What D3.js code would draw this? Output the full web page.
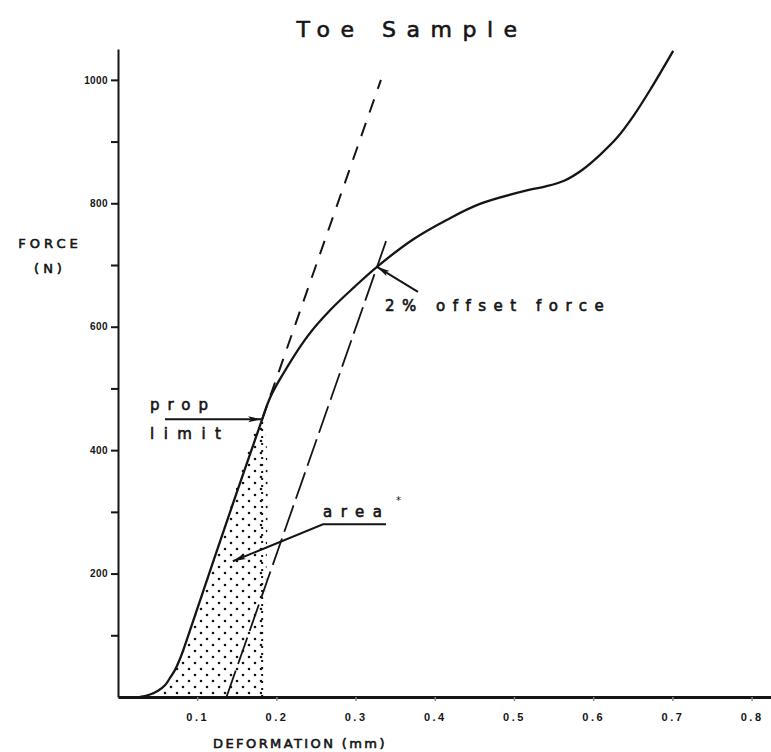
<!DOCTYPE html>
<html>
<head>
<meta charset="utf-8">
<script src="https://cdn.jsdelivr.net/npm/d3@7"></script>
<style>
  html, body { margin: 0; padding: 0; background: #fff; }
  svg { display: block; font-family: "DejaVu Sans", sans-serif; }
</style>
</head>
<body>
<svg id="chart" width="771" height="752"></svg>
<script>
// Load–deformation record of the toe sample
const deformation = [0.0278, 0.0404, 0.0505, 0.0593, 0.0657, 0.072, 0.0783, 0.0859, 0.128, 0.182, 0.192, 0.2045,
                     0.239, 0.268, 0.299, 0.327, 0.372, 0.415, 0.457, 0.520, 0.539, 0.564, 0.586, 0.609, 0.630,
                     0.650, 0.672, 0.701];
const force = [0, 4, 10, 19, 31, 44, 62, 89, 249, 450, 485, 515,
               584, 627, 665, 697, 741, 773, 799, 822, 827, 837, 854, 879, 906,
               940, 984, 1047];

// Axis ticks
const xTicks = [0.1, 0.2, 0.3, 0.4, 0.5, 0.6, 0.7, 0.8];
const xTickLabels = ["0.1", "0.2", "0.3", "0.4", "0.5", "0.6", "0.7", "0.8"];
const yTicks = [100, 200, 300, 400, 500, 600, 700, 800, 900, 1000];
const yTickLabels = ["", "200", "", "400", "", "600", "", "800", "", "1000"];

// Reference points of the analysis
const propLimit = { deformation: 0.182, force: 450 };      // proportional limit
const elasticTop = { deformation: 0.332, force: 1000 };    // end of the elastic tangent
const offsetStart = { deformation: 0.137, force: 0 };      // offset line foot
const offsetEndForce = 740;
const offsetForce = { deformation: 0.327, force: 697 };    // 2% offset force
const areaPointer = { deformation: 0.145, force: 220 };

const svg = d3.select("#chart");
const ink = "#151515";

const x = d3.scaleLinear().domain([0, 0.825]).range([118, 771.4]);
const y = d3.scaleLinear().domain([0, 1050]).range([697, 49]);

const data = deformation.map((d, i) => ({ d, f: force[i] }));
const modulus = (elasticTop.force - propLimit.force) / (elasticTop.deformation - propLimit.deformation);
const curve = d3.line().x(p => x(p.d)).y(p => y(p.f)).curve(d3.curveCatmullRom.alpha(0.5));

// Patterns and markers
const defs = svg.append("defs");
const pat = defs.append("pattern")
  .attr("id", "dots").attr("patternUnits", "userSpaceOnUse")
  .attr("width", 12).attr("height", 12);
pat.append("circle").attr("cx", 3).attr("cy", 3).attr("r", 1.3).attr("fill", ink);
pat.append("circle").attr("cx", 9).attr("cy", 9).attr("r", 1.3).attr("fill", ink);

defs.append("marker")
  .attr("id", "arrow").attr("markerUnits", "userSpaceOnUse")
  .attr("markerWidth", 14).attr("markerHeight", 8)
  .attr("refX", 13).attr("refY", 4).attr("orient", "auto")
  .append("path").attr("d", "M0,1 L13,4 L0,7 L3,4 Z").attr("fill", ink);

// Shaded area under the curve up to the proportional limit
const areaPts = data.filter(p => p.d <= propLimit.deformation);
const areaPoly = [{ d: areaPts[0].d, f: 0 }, ...areaPts, { d: propLimit.deformation, f: 0 }];
svg.append("path")
  .attr("d", d3.line().x(p => x(p.d)).y(p => y(p.f)).curve(d3.curveCatmullRom.alpha(0.5))(areaPoly) + "Z")
  .attr("fill", "url(#dots)").attr("stroke", "none");
svg.append("line")
  .attr("x1", x(propLimit.deformation)).attr("x2", x(propLimit.deformation))
  .attr("y1", y(0)).attr("y2", y(propLimit.force))
  .attr("stroke", ink).attr("stroke-width", 2).attr("stroke-dasharray", "2,5");

// Elastic tangent (dashed)
svg.append("line")
  .attr("x1", x(propLimit.deformation)).attr("y1", y(propLimit.force))
  .attr("x2", x(elasticTop.deformation)).attr("y2", y(elasticTop.force))
  .attr("stroke", ink).attr("stroke-width", 2).attr("stroke-dasharray", "14,11");

// Offset line parallel to the tangent
svg.append("line")
  .attr("x1", x(offsetStart.deformation)).attr("y1", y(offsetStart.force))
  .attr("x2", x(offsetStart.deformation + offsetEndForce / modulus)).attr("y2", y(offsetEndForce))
  .attr("stroke", ink).attr("stroke-width", 1.8).attr("stroke-dasharray", "28,7");

// Force–deformation curve
svg.append("path")
  .datum(data)
  .attr("d", curve)
  .attr("fill", "none").attr("stroke", ink).attr("stroke-width", 2.3);

// Axes
const yAxis = svg.append("g").attr("transform", `translate(${x(0)},0)`)
  .call(d3.axisLeft(y).tickValues(yTicks).tickSize(7).tickSizeOuter(0).tickPadding(3)
    .tickFormat((d, i) => yTickLabels[i]));
yAxis.select(".domain").attr("stroke", ink).attr("stroke-width", 2);
yAxis.selectAll(".tick line").attr("stroke", ink).attr("stroke-width", 2);
yAxis.selectAll(".tick text")
  .attr("font-family", "'Liberation Sans', sans-serif").attr("font-weight", "bold")
  .attr("font-size", 10).attr("letter-spacing", 0.4).attr("fill", ink);

const xAxis = svg.append("g").attr("transform", `translate(0,${y(0)})`)
  .call(d3.axisBottom(x).tickValues(xTicks).tickSize(4).tickSizeOuter(0).tickPadding(12)
    .tickFormat((d, i) => xTickLabels[i]));
xAxis.select(".domain").attr("stroke", ink).attr("stroke-width", 3);
xAxis.selectAll(".tick line").attr("stroke", "#888").attr("stroke-width", 1.5);
xAxis.selectAll(".tick text")
  .attr("font-family", "'Liberation Sans', sans-serif").attr("font-weight", "bold")
  .attr("font-size", 11).attr("letter-spacing", 2.5).attr("fill", ink);

// Heavier strokes for the hand-lettered look
const letter = sel => sel.attr("fill", ink).attr("stroke", ink).attr("stroke-width", 0.6);

// Titles
svg.append("text").attr("x", 412).attr("y", 37).attr("text-anchor", "middle")
  .attr("font-size", 22).attr("letter-spacing", 10.5).call(letter).text("Toe Sample");
svg.append("text").attr("x", 50).attr("y", 248).attr("text-anchor", "middle")
  .attr("font-size", 13).attr("letter-spacing", 4).call(letter).text("FORCE");
svg.append("text").attr("x", 50).attr("y", 273).attr("text-anchor", "middle")
  .attr("font-size", 13).attr("letter-spacing", 4).call(letter).text("(N)");
svg.append("text").attr("x", 300).attr("y", 748).attr("text-anchor", "middle")
  .attr("font-size", 13).attr("letter-spacing", 2.4).call(letter).text("DEFORMATION (mm)");

// Annotation: proportional limit
const px = x(propLimit.deformation), py = y(propLimit.force);
svg.append("text").attr("x", 150).attr("y", py - 9)
  .attr("font-size", 15).attr("letter-spacing", 8).call(letter).text("prop");
svg.append("text").attr("x", 150).attr("y", py + 20)
  .attr("font-size", 15).attr("letter-spacing", 9.5).call(letter).text("limit");
svg.append("line").attr("x1", 165).attr("y1", py).attr("x2", px - 1).attr("y2", py)
  .attr("stroke", ink).attr("stroke-width", 2).attr("marker-end", "url(#arrow)");

// Annotation: 2% offset force
const ox = x(offsetForce.deformation), oy = y(offsetForce.force);
svg.append("line").attr("x1", ox + 41).attr("y1", oy + 25).attr("x2", ox).attr("y2", oy)
  .attr("stroke", ink).attr("stroke-width", 2).attr("marker-end", "url(#arrow)");
svg.append("text").attr("x", 385).attr("y", oy + 44)
  .attr("font-size", 15).attr("letter-spacing", 7.5).call(letter).text("2% offset force");

// Annotation: area
const ax = x(areaPointer.deformation), ay = y(areaPointer.force);
svg.append("text").attr("x", 323).attr("y", ay - 44)
  .attr("font-size", 15).attr("letter-spacing", 8.5).call(letter).text("area");
svg.append("text").attr("x", 396).attr("y", ay - 57)
  .attr("font-size", 10).attr("fill", ink).text("*");
svg.append("path")
  .attr("d", `M386,${ay - 37} L323,${ay - 37} L${ax},${ay}`)
  .attr("fill", "none").attr("stroke", ink).attr("stroke-width", 2).attr("marker-end", "url(#arrow)");
</script>
</body>
</html>
